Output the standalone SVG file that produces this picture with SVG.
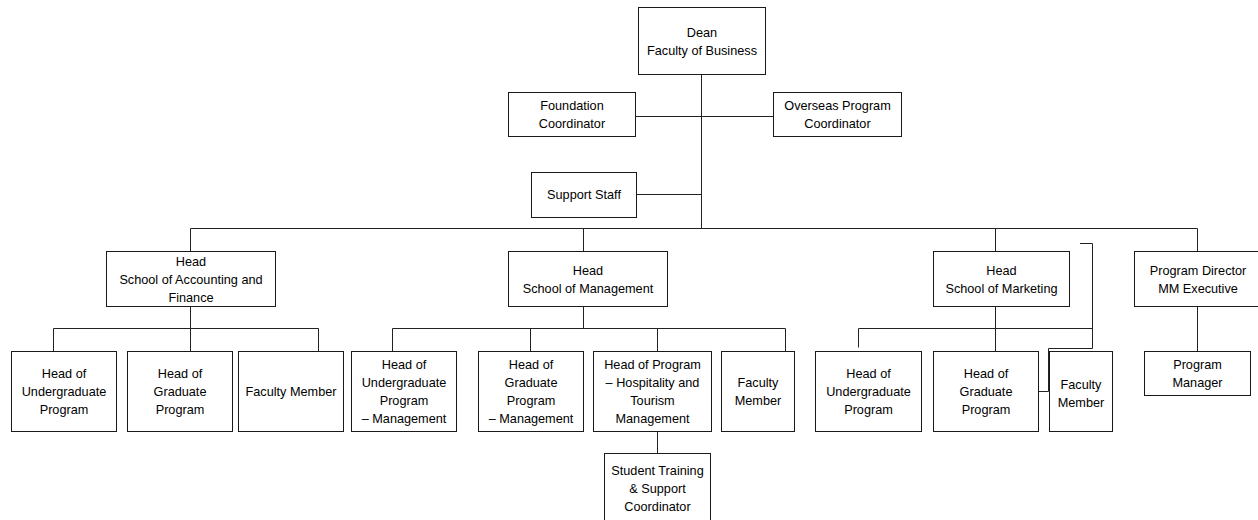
<svg xmlns="http://www.w3.org/2000/svg" width="1258" height="520" viewBox="0 0 1258 520">
<style>
.box{fill:#fff;stroke:#1a1a1a;stroke-width:1}
.t{font-family:"Liberation Sans",Arial,sans-serif;font-size:12.7px;fill:#000;text-anchor:middle}
.c{fill:none;stroke:#222;stroke-width:1}
</style>
<rect width="1258" height="520" fill="#fff"/>
<g id="connectors">
<path class="c" d="M701.5,74.5V228.5M635.5,116.5H773.5M636.5,194.5H701.5M190.5,228.5H1197.5M190.5,228.5V251.5M583.5,228.5V251.5M995.5,228.5V251.5M1197.5,228.5V251.5"/>
<path class="c" d="M190.5,306.5V351.5M53.5,328.5H318.5M53.5,328.5V351.5M318.5,328.5V351.5"/>
<path class="c" d="M583.5,306.5V328.5M392.5,328.5H785.5M392.5,328.5V351.5M530.5,328.5V351.5M657.5,328.5V351.5M785.5,328.5V351.5M657.5,431.5V453.5"/>
<path class="c" d="M995.5,306.5V351.5M858.5,328.5H1092.5M858.5,328.5V347.5"/>
<polyline class="c" points="1080,243.5 1092.5,243.5 1092.5,348.5 1048.5,348.5 1048.5,391.5 1038.5,391.5"/>
<path class="c" d="M1197.5,306.5V351.5"/>
</g>
<g id="dean"><rect class="box" x="638.5" y="7.5" width="127" height="67"/><text class="t" x="702" y="36.5">Dean</text><text class="t" x="702" y="54.5">Faculty of Business</text></g>
<g id="foundation"><rect class="box" x="508.5" y="92.5" width="127" height="44"/><text class="t" x="572" y="110">Foundation</text><text class="t" x="572" y="128">Coordinator</text></g>
<g id="overseas"><rect class="box" x="773.5" y="92.5" width="128" height="44"/><text class="t" x="837.5" y="110">Overseas Program</text><text class="t" x="837.5" y="128">Coordinator</text></g>
<g id="support"><rect class="box" x="531.5" y="172.5" width="105" height="45"/><text class="t" x="584" y="199">Support Staff</text></g>
<g id="accounting"><rect class="box" x="106.5" y="251.5" width="169" height="55"/><text class="t" x="191" y="265.5">Head</text><text class="t" x="191" y="283.5">School of Accounting and</text><text class="t" x="191" y="301.5">Finance</text></g>
<g id="management"><rect class="box" x="508.5" y="251.5" width="159" height="55"/><text class="t" x="588" y="274.5">Head</text><text class="t" x="588" y="292.5">School of Management</text></g>
<g id="marketing"><rect class="box" x="933.5" y="251.5" width="136" height="55"/><text class="t" x="1001.5" y="274.5">Head</text><text class="t" x="1001.5" y="292.5">School of Marketing</text></g>
<g id="program-director"><rect class="box" x="1134.5" y="251.5" width="127" height="55"/><text class="t" x="1198" y="274.5">Program Director</text><text class="t" x="1198" y="292.5">MM Executive</text></g>
<g id="acc-ug"><rect class="box" x="11.5" y="351.5" width="105" height="80"/><text class="t" x="64" y="378">Head of</text><text class="t" x="64" y="396">Undergraduate</text><text class="t" x="64" y="414">Program</text></g>
<g id="acc-grad"><rect class="box" x="127.5" y="351.5" width="105" height="80"/><text class="t" x="180" y="378">Head of</text><text class="t" x="180" y="396">Graduate</text><text class="t" x="180" y="414">Program</text></g>
<g id="acc-faculty"><rect class="box" x="238.5" y="351.5" width="105" height="80"/><text class="t" x="291" y="396">Faculty Member</text></g>
<g id="mgmt-ug"><rect class="box" x="351.5" y="351.5" width="105" height="80"/><text class="t" x="404" y="369">Head of</text><text class="t" x="404" y="387">Undergraduate</text><text class="t" x="404" y="405">Program</text><text class="t" x="404" y="423">– Management</text></g>
<g id="mgmt-grad"><rect class="box" x="478.5" y="351.5" width="105" height="80"/><text class="t" x="531" y="369">Head of</text><text class="t" x="531" y="387">Graduate</text><text class="t" x="531" y="405">Program</text><text class="t" x="531" y="423">– Management</text></g>
<g id="mgmt-hosp"><rect class="box" x="593.5" y="351.5" width="118" height="80"/><text class="t" x="652.5" y="369">Head of Program</text><text class="t" x="652.5" y="387">– Hospitality and</text><text class="t" x="652.5" y="405">Tourism</text><text class="t" x="652.5" y="423">Management</text></g>
<g id="mgmt-faculty"><rect class="box" x="721.5" y="351.5" width="73" height="80"/><text class="t" x="758" y="387">Faculty</text><text class="t" x="758" y="405">Member</text></g>
<g id="student-training"><rect class="box" x="604.5" y="453.5" width="106" height="70"/><text class="t" x="657.5" y="474.5">Student Training</text><text class="t" x="657.5" y="492.5">&amp; Support</text><text class="t" x="657.5" y="510.5">Coordinator</text></g>
<g id="mkt-ug"><rect class="box" x="815.5" y="351.5" width="106" height="80"/><text class="t" x="868.5" y="378">Head of</text><text class="t" x="868.5" y="396">Undergraduate</text><text class="t" x="868.5" y="414">Program</text></g>
<g id="mkt-grad"><rect class="box" x="933.5" y="351.5" width="105" height="80"/><text class="t" x="986" y="378">Head of</text><text class="t" x="986" y="396">Graduate</text><text class="t" x="986" y="414">Program</text></g>
<g id="mkt-faculty"><rect class="box" x="1049.5" y="351.5" width="63" height="80"/><text class="t" x="1081" y="388.5">Faculty</text><text class="t" x="1081" y="406.5">Member</text></g>
<g id="program-manager"><rect class="box" x="1144.5" y="351.5" width="106" height="44"/><text class="t" x="1197.5" y="369">Program</text><text class="t" x="1197.5" y="387">Manager</text></g>
</svg>
